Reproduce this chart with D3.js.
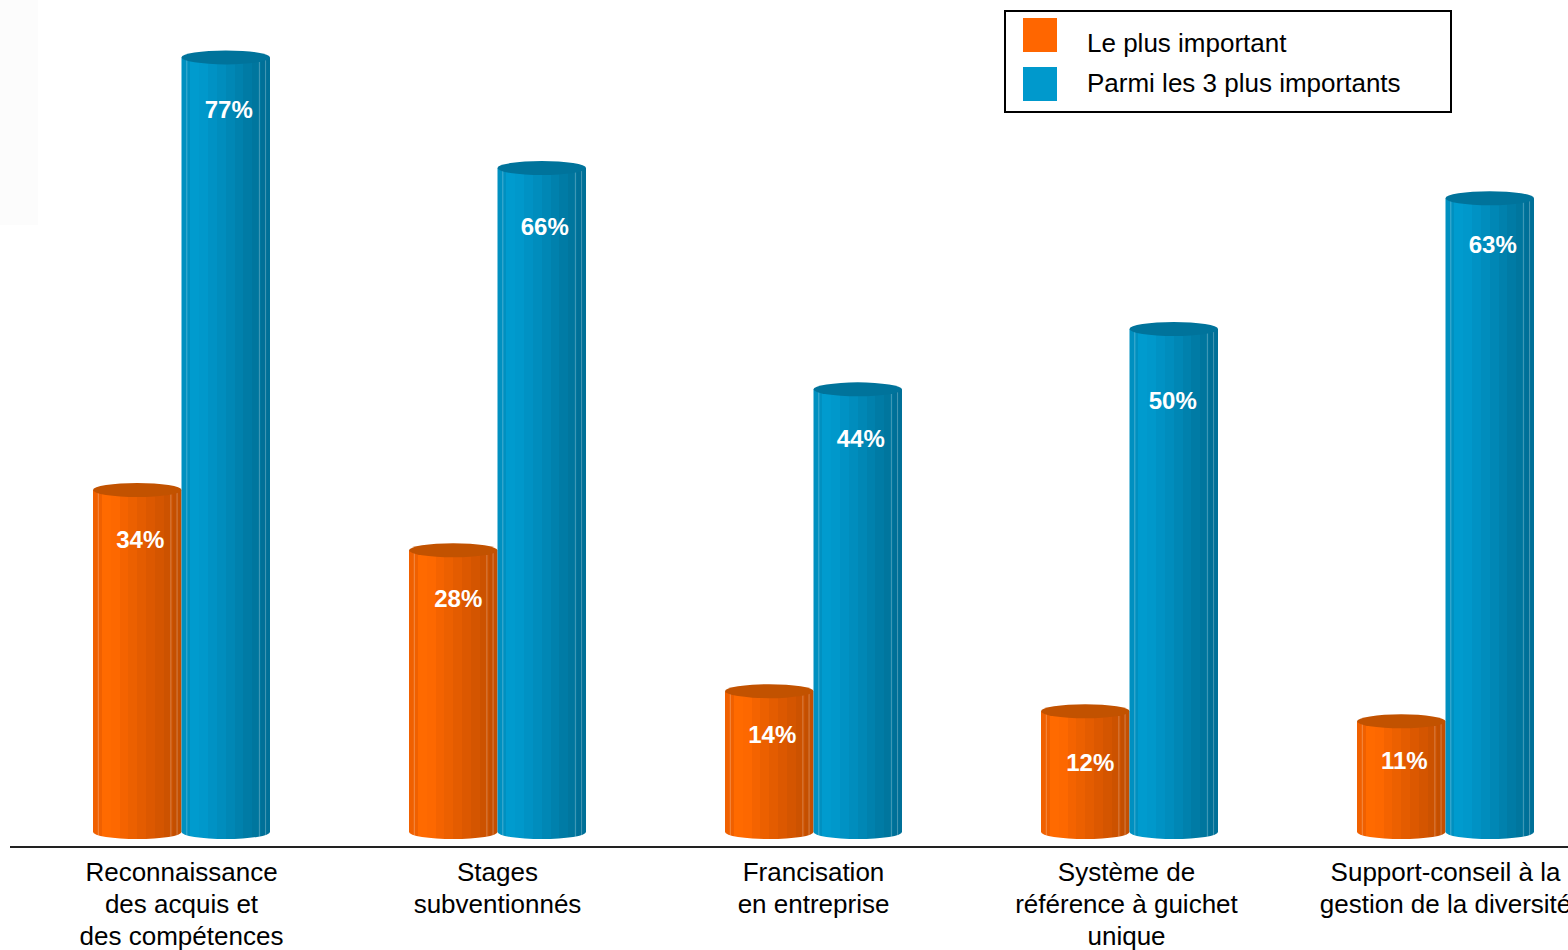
<!DOCTYPE html>
<html>
<head>
<meta charset="utf-8">
<script src="https://cdn.jsdelivr.net/npm/d3@7"></script>
<style>
  html, body { margin: 0; padding: 0; background: #ffffff; }
  svg { display: block; }
</style>
</head>
<body>
<svg id="chart" width="1568" height="950"></svg>
<script>
// Categories (each may wrap over several lines)
const categories = [
  ["Reconnaissance", "des acquis et", "des compétences"],
  ["Stages", "subventionnés"],
  ["Francisation", "en entreprise"],
  ["Système de", "référence à guichet", "unique"],
  ["Support-conseil à la", "gestion de la diversité"]
];
const seriesNames = ["Le plus important", "Parmi les 3 plus importants"];
const mostImportant = [34, 28, 14, 12, 11];
const topThree = [77, 66, 44, 50, 63];

// Layout: where each value label sits below its cylinder top [orange, blue]
const labelDrop = [[58, 61], [57, 67], [52, 58], [60, 80], [48, 55]];
const labelShift = [[0, 0], [2, 0], [0, 0], [2, -4], [0, 0]];

const W = 1568, H = 950;
const FONT = "Liberation Sans, Arial, sans-serif";
const svg = d3.select("#chart");
const defs = svg.append("defs");

// Faint panel in the upper-left corner
svg.append("rect").attr("x", 0).attr("y", 0).attr("width", 38).attr("height", 225)
  .attr("fill", "#fcfcfc");

const palette = [
  { base: "#FF6600", top: "#C25200",
    stripes: ["#F06000", "#FF6A00", "#FD6800", "#F46300", "#EC6000", "#E45C00", "#DC5800", "#D45500", "#CC5200", "#C44F00"] },
  { base: "#0099CC", top: "#00739B",
    stripes: ["#0090C0", "#009BCE", "#0098CB", "#0092C4", "#008DBD", "#0087B5", "#0081AD", "#007BA5", "#00769E", "#007098"] }
];

// Striped gradients that give the cylinders their faceted look
palette.forEach((p, i) => {
  const g = defs.append("linearGradient").attr("id", "cyl" + i)
    .attr("x1", "0%").attr("x2", "100%").attr("y1", "0%").attr("y2", "0%");
  const n = p.stripes.length;
  p.stripes.forEach((c, k) => {
    g.append("stop").attr("offset", (k / n * 100) + "%").attr("stop-color", c);
    g.append("stop").attr("offset", ((k + 1) / n * 100) + "%").attr("stop-color", c);
  });
});

const x0 = d3.scaleBand().domain(d3.range(categories.length)).range([23, 23 + 316 * 5]).paddingInner(0).paddingOuter(0);
const x1 = d3.scaleBand().domain([0, 1]).range([70, 70 + 177]);
const y = d3.scaleLinear().domain([0, 100]).range([832, 832 - 1006]);

const ry = 7;
const data = [];
categories.forEach((c, i) => {
  [mostImportant[i], topThree[i]].forEach((v, s) => data.push({ i, s, v }));
});

const bars = svg.append("g").selectAll("g").data(data).join("g")
  .attr("transform", d => `translate(${x0(d.i) + x1(d.s)},0)`);

const bw = x1.bandwidth();
const rx = bw / 2;

// Cylinder body: straight sides with an elliptical bottom edge
bars.append("path")
  .attr("d", d => {
    const yt = y(d.v), yb = y(0);
    return `M0,${yt} L0,${yb} A${rx},${ry} 0 0 0 ${bw},${yb} L${bw},${yt} Z`;
  })
  .attr("fill", d => `url(#cyl${d.s})`);

// Thin highlight facets
bars.each(function (d) {
  const g = d3.select(this);
  [0.06, 0.88, 0.95].forEach(f => {
    g.append("line")
      .attr("x1", bw * f).attr("x2", bw * f)
      .attr("y1", y(d.v)).attr("y2", y(0) + ry * Math.sqrt(Math.max(0, 1 - Math.pow((bw * f - rx) / rx, 2))))
      .attr("stroke", "#ffffff").attr("stroke-opacity", 0.28).attr("stroke-width", 1);
  });
});

// Cylinder top
bars.append("ellipse")
  .attr("cx", rx).attr("cy", d => y(d.v))
  .attr("rx", rx).attr("ry", ry)
  .attr("fill", d => palette[d.s].top);

// Value labels
bars.append("text")
  .attr("x", d => rx + 3 + labelShift[d.i][d.s])
  .attr("y", d => y(d.v) + labelDrop[d.i][d.s])
  .attr("text-anchor", "middle")
  .attr("font-family", FONT)
  .attr("font-weight", "bold").attr("font-size", 24)
  .attr("fill", "#ffffff")
  .text(d => d.v + "%");

// Baseline
svg.append("line").attr("x1", 10).attr("x2", W).attr("y1", 847).attr("y2", 847)
  .attr("stroke", "#222222").attr("stroke-width", 2);

// Category labels
const catG = svg.append("g").selectAll("text").data(categories).join("text")
  .attr("text-anchor", "middle")
  .attr("font-family", FONT)
  .attr("font-size", 26).attr("fill", "#000000")
  .attr("transform", (d, i) => `translate(${x0(i) + x1(0) + bw - (i === 3 ? 3 : 0)},0)`);
catG.selectAll("tspan").data(d => d).join("tspan")
  .attr("x", 0).attr("y", (d, k) => 881 + k * 32)
  .text(d => d);

// Legend
const leg = svg.append("g");
leg.append("rect").attr("x", 1005).attr("y", 11).attr("width", 446).attr("height", 101)
  .attr("fill", "#ffffff").attr("stroke", "#000000").attr("stroke-width", 2);
seriesNames.forEach((name, k) => {
  leg.append("rect").attr("x", 1023).attr("y", 18 + k * 49).attr("width", 34).attr("height", 34)
    .attr("fill", palette[k].base);
  leg.append("text").attr("x", 1087).attr("y", 52 + k * 40)
    .attr("font-family", FONT)
    .attr("font-size", 26).attr("fill", "#000000")
    .text(name);
});
</script>
</body>
</html>
